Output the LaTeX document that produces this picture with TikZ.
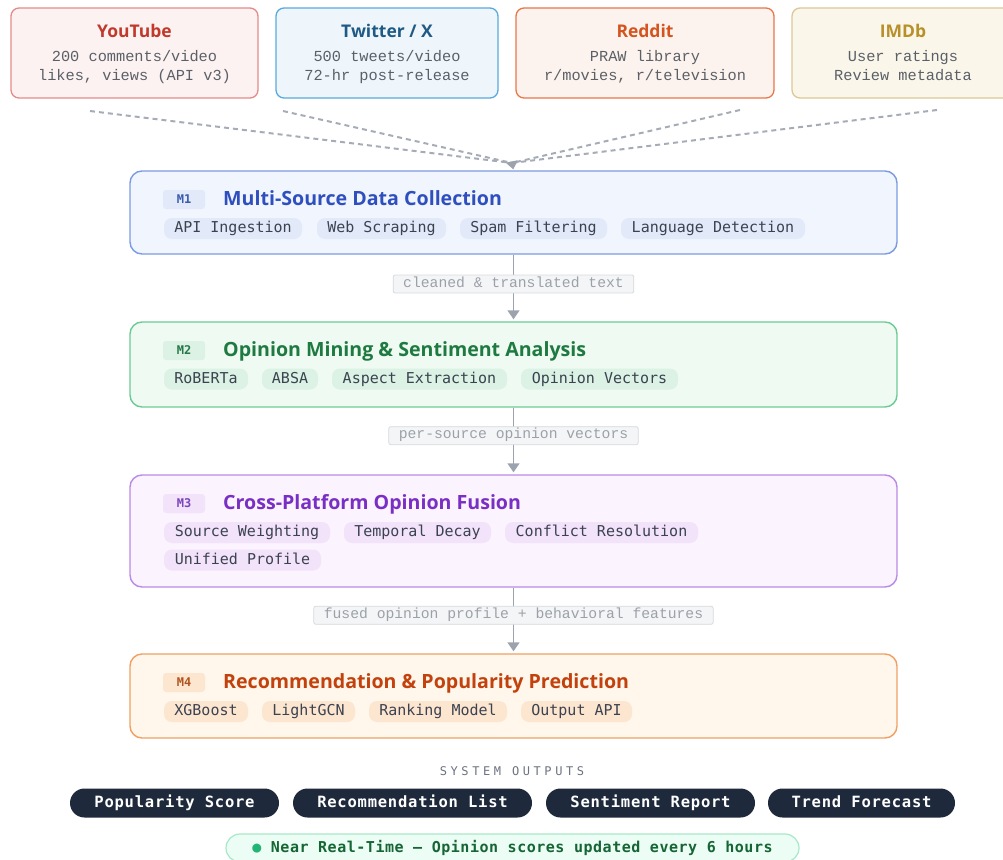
\documentclass[tikz,border=0pt]{standalone}
\usepackage{fontspec}
\usetikzlibrary{arrows.meta}
\setmainfont{Open Sans}
\newfontfamily\srcmono{Liberation Mono}
\newfontfamily\chipmono{DejaVu Sans Mono}
\newfontfamily\pillmono{DejaVu Sans Mono}[LetterSpace=5]
\newfontfamily\sysmono{DejaVu Sans Mono}[LetterSpace=30]
\newfontfamily\rtmono{DejaVu Sans Mono}[LetterSpace=3.5]

\definecolor{ytB}{HTML}{E58A8A}\definecolor{ytF}{HTML}{FDF2F2}\definecolor{ytT}{HTML}{C0392B}
\definecolor{twB}{HTML}{5AA9DD}\definecolor{twF}{HTML}{EEF6FC}\definecolor{twT}{HTML}{1F5A85}
\definecolor{rdB}{HTML}{E8774A}\definecolor{rdF}{HTML}{FDF3EE}\definecolor{rdT}{HTML}{D4541F}
\definecolor{imB}{HTML}{DCC897}\definecolor{imF}{HTML}{FAF6EA}\definecolor{imT}{HTML}{B8902A}
\definecolor{srcText}{HTML}{5B6068}
\definecolor{m1B}{HTML}{7B9BE0}\definecolor{m1F}{HTML}{F0F5FE}\definecolor{m1T}{HTML}{2F4FBF}\definecolor{m1C}{HTML}{E2EAFA}\definecolor{m1K}{HTML}{3A5AAE}
\definecolor{m2B}{HTML}{6CCB94}\definecolor{m2F}{HTML}{EFFAF3}\definecolor{m2T}{HTML}{1E7A40}\definecolor{m2C}{HTML}{DBF2E4}\definecolor{m2K}{HTML}{25784A}
\definecolor{m3B}{HTML}{B98AE6}\definecolor{m3F}{HTML}{FBF3FE}\definecolor{m3T}{HTML}{7A2FC4}\definecolor{m3C}{HTML}{F2E3FB}\definecolor{m3K}{HTML}{7A45B8}
\definecolor{m4B}{HTML}{F0A062}\definecolor{m4F}{HTML}{FFF6EC}\definecolor{m4T}{HTML}{C2410C}\definecolor{m4C}{HTML}{FDE6D0}\definecolor{m4K}{HTML}{B05522}
\definecolor{chipText}{HTML}{3B4250}
\definecolor{lblB}{HTML}{D6D9DE}\definecolor{lblF}{HTML}{F4F5F7}\definecolor{lblT}{HTML}{9CA1A8}
\definecolor{arrowC}{HTML}{9CA3AF}
\definecolor{pillC}{HTML}{1E293B}
\definecolor{rtF}{HTML}{ECFDF5}\definecolor{rtB}{HTML}{A7E8C8}\definecolor{rtT}{HTML}{166534}\definecolor{rtDot}{HTML}{22B573}
\definecolor{sysT}{HTML}{6B7280}

\begin{document}
\begin{tikzpicture}[x=1pt,y=-1pt,
  srcbox/.style={rounded corners=8pt, line width=1.3pt, minimum width=#1, minimum height=90pt, inner sep=0pt},
  srctitle/.style={font=\fontsize{17.5}{17.5}\selectfont\bfseries, inner sep=0pt, text height=12.5pt, text depth=3.5pt},
  srcline/.style={font=\srcmono\fontsize{15.3}{15.3}\selectfont, text=srcText, inner sep=0pt, text height=10pt, text depth=3pt},
  modbox/.style={rounded corners=12pt, line width=1.4pt, minimum width=767pt, minimum height=#1, inner sep=0pt},
  modtitle/.style={font=\fontsize{19.6}{19.6}\selectfont\bfseries, anchor=west, inner sep=0pt, text height=14pt, text depth=4.5pt},
  tag/.style={rounded corners=3pt, minimum width=42pt, minimum height=19pt, inner sep=0pt, text height=9pt, text depth=1pt, font=\chipmono\fontsize{12}{12}\selectfont\bfseries},
  chip/.style={rounded corners=8pt, minimum width=#1, minimum height=21pt, inner sep=0pt, text height=11pt, text depth=3pt, text=chipText, font=\chipmono\fontsize{15}{15}\selectfont},
  lbl/.style={draw=lblB, fill=lblF, line width=0.8pt, rounded corners=2pt, inner xsep=10pt, minimum height=18pt, inner ysep=0pt, text height=9pt, text depth=3pt, text=lblT, font=\srcmono\fontsize{14.7}{14.7}\selectfont},
  flow/.style={draw=arrowC, line width=1.4pt, -{Triangle[width=12pt,length=9pt]}, shorten >=2pt},
  feed/.style={draw=arrowC!90, line width=2pt, dash pattern=on 5pt off 4pt},
  outpill/.style={fill=pillC, rounded corners=14.5pt, minimum width=#1, minimum height=29pt, inner sep=0pt, text height=11pt, text depth=3pt, text=white, font=\pillmono\fontsize{15.5}{15.5}\selectfont\bfseries}
]
\useasboundingbox (0,0) rectangle (1003,859);
\clip (0,0) rectangle (1003,859);

% ---------- source boxes ----------
\node[srcbox=247pt, draw=ytB, fill=ytF] (yt) at (134.5,53) {};
\node[srctitle, text=ytT] (ytt) at (134.5,33) {YouTube};
\node[srcline] (yt1) at (134.5,58.5) {200 comments/video};
\node[srcline] (yt2) at (134.5,77.5) {likes, views (API v3)};

\node[srcbox=222pt, draw=twB, fill=twF] (tw) at (387,53) {};
\node[srctitle, text=twT] (twt) at (387,33) {Twitter / X};
\node[srcline] (tw1) at (387,58.5) {500 tweets/video};
\node[srcline] (tw2) at (387,77.5) {72-hr post-release};

\node[srcbox=258pt, draw=rdB, fill=rdF] (rd) at (645,53) {};
\node[srctitle, text=rdT] (rdt) at (645,33) {Reddit};
\node[srcline] (rd1) at (645,58.5) {PRAW library};
\node[srcline] (rd2) at (645,77.5) {r/movies, r/television};

\node[srcbox=222pt, draw=imB, fill=imF] (im) at (903,53) {};
\node[srctitle, text=imT] (imt) at (903,33) {IMDb};
\node[srcline] (im1) at (903,58.5) {User ratings};
\node[srcline] (im2) at (903,77.5) {Review metadata};

% ---------- converging feeds ----------
\coordinate (ytS) at (90,111);
\coordinate (twS) at (283,111);
\coordinate (rdS) at (740,110);
\coordinate (imS) at (937,110);
\coordinate (conv) at (512,163);

% ---------- module boxes ----------
\node[modbox=83pt, draw=m1B, fill=m1F] (m1) at (513.5,212.5) {};
\node[tag, fill=m1C, text=m1K] (m1k) at (184,199.5) {M1};
\node[modtitle, text=m1T] (m1t) at (223,200.5) {Multi-Source Data Collection};
\node[chip=138pt, fill=m1C] (m1a) at (233,228.5) {API Ingestion};
\node[chip=129pt, fill=m1C] (m1b) at (381.5,228.5) {Web Scraping};
\node[chip=147pt, fill=m1C] (m1c) at (533.5,228.5) {Spam Filtering};
\node[chip=184pt, fill=m1C] (m1d) at (713,228.5) {Language Detection};

\node[modbox=85pt, draw=m2B, fill=m2F] (m2) at (513.5,364.5) {};
\node[tag, fill=m2C, text=m2K] (m2k) at (184,350.5) {M2};
\node[modtitle, text=m2T] (m2t) at (223,351.5) {Opinion Mining \& Sentiment Analysis};
\node[chip=84pt, fill=m2C] (m2a) at (206,379) {RoBERTa};
\node[chip=56pt, fill=m2C] (m2b) at (290,379) {ABSA};
\node[chip=175pt, fill=m2C] (m2c) at (419.5,379) {Aspect Extraction};
\node[chip=157pt, fill=m2C] (m2d) at (599.5,379) {Opinion Vectors};

\node[modbox=112pt, draw=m3B, fill=m3F] (m3) at (513.5,531) {};
\node[tag, fill=m3C, text=m3K] (m3k) at (184,503.5) {M3};
\node[modtitle, text=m3T] (m3t) at (223,504.5) {Cross-Platform Opinion Fusion};
\node[chip=166pt, fill=m3C] (m3a) at (247,532.5) {Source Weighting};
\node[chip=147pt, fill=m3C] (m3b) at (417.5,532.5) {Temporal Decay};
\node[chip=193pt, fill=m3C] (m3c) at (601.5,532.5) {Conflict Resolution};
\node[chip=157pt, fill=m3C] (m3d) at (242.5,560) {Unified Profile};

\node[modbox=84pt, draw=m4B, fill=m4F] (m4) at (513.5,696) {};
\node[tag, fill=m4C, text=m4K] (m4k) at (184,682.5) {M4};
\node[modtitle, text=m4T] (m4t) at (223,683.5) {Recommendation \& Popularity Prediction};
\node[chip=84pt, fill=m4C] (m4a) at (206,711.5) {XGBoost};
\node[chip=93pt, fill=m4C] (m4b) at (308.5,711.5) {LightGCN};
\node[chip=138pt, fill=m4C] (m4c) at (438,711.5) {Ranking Model};
\node[chip=111pt, fill=m4C] (m4d) at (576.5,711.5) {Output API};

% ---------- feeds into M1 ----------
\draw[feed] (ytS) -- (conv);
\draw[feed] (twS) -- (conv);
\draw[feed] (rdS) -- (conv);
\draw[feed] (imS) -- (conv);
\draw[draw=arrowC, line width=1pt, -{Triangle[width=12pt,length=8pt]}, shorten >=1pt] (conv) -- (m1.north);

% ---------- flows between modules ----------
\draw[flow] (m1.south) -- node[lbl, pos=0.44] (l1) {cleaned \& translated text} (m2.north);
\draw[flow] (m2.south) -- node[lbl, pos=0.42] (l2) {per-source opinion vectors} (m3.north);
\draw[flow] (m3.south) -- node[lbl, pos=0.42] (l3) {fused opinion profile + behavioral features} (m4.north);

% ---------- outputs ----------
\node[font=\sysmono\fontsize{12}{12}\selectfont, text=sysT, inner sep=0pt] (sys) at (512,771.5) {SYSTEM OUTPUTS};
\node[outpill=209pt] (o1) at (174.5,803) {Popularity Score};
\node[outpill=239pt] (o2) at (412.5,803) {Recommendation List};
\node[outpill=209pt] (o3) at (650.5,803) {Sentiment Report};
\node[outpill=187pt] (o4) at (861.5,803) {Trend Forecast};

\node[fill=rtF, draw=rtB, line width=1.2pt, rounded corners=14pt, minimum width=573pt, minimum height=28pt, inner sep=0pt, text height=11pt, text depth=3pt, text=rtT, font=\rtmono\fontsize{15}{15}\selectfont\bfseries] (rt) at (512.5,848) {{\color{rtDot}●} Near Real-Time — Opinion scores updated every 6 hours};
\end{tikzpicture}
\end{document}
